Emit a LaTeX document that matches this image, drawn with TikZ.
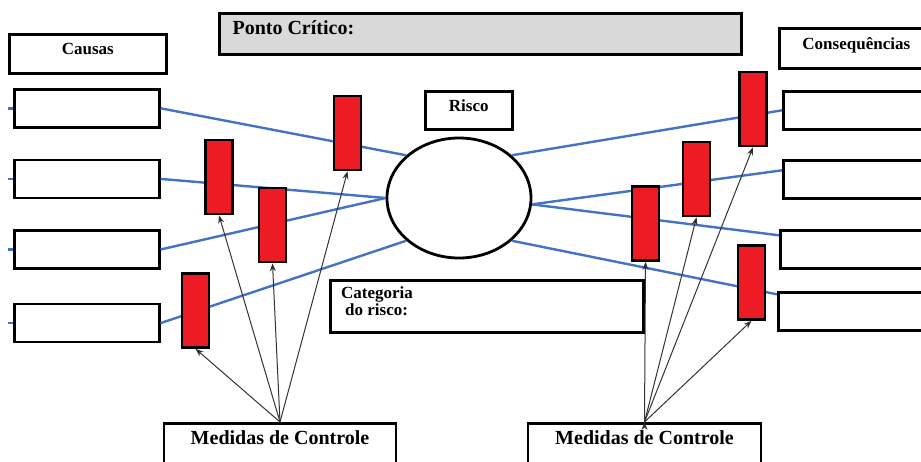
\documentclass[tikz,border=0pt]{standalone}
\usepackage{fontspec}
\setmainfont{Liberation Serif}
\usepackage{tikz}
\usetikzlibrary{positioning, shapes.geometric, arrows, arrows.meta}
\definecolor{azul}{HTML}{4472C4}
\definecolor{vermelho}{HTML}{ED1C24}
\definecolor{cinza}{HTML}{D9D9D9}
\tikzset{
	>={Stealth[length=8pt, width=6pt]}, % Punta de las flechas
	caixa/.style={draw, line width=2.6pt, fill=white, inner sep=0pt}, % Cajas de texto
	titulo/.style={caixa, font=\fontsize{17pt}{20pt}\selectfont\bfseries, text height=12pt, text depth=10pt}, % Cajas con titulo arriba
	item/.style={caixa, minimum width=145pt, minimum height=38pt}, % Causas y consecuencias
	medidas/.style={caixa, font=\fontsize{20pt}{24pt}\selectfont\bfseries, minimum width=232pt, text height=14pt, text depth=21pt, inner ysep=7pt, anchor=north}, % Medidas de control
	barra/.style={draw, line width=2.6pt, fill=vermelho, minimum width=27pt, minimum height=74pt}, % Barras rojas
	ligacao/.style={draw=azul, line width=2.4pt}, % Lineas azules
	seta/.style={->, draw=black!80, line width=1pt} % Flechas de las medidas
}

\begin{document}
\begin{tikzpicture}[x=1pt, y=-1pt]
				\clip (0,0) rectangle (921,461);
				
				\node[caixa, fill=cinza, anchor=north west, minimum width=522pt, minimum height=41pt] (ponto) at (218,12) {};
				\node[anchor=base west, font=\fontsize{20pt}{24pt}\selectfont\bfseries] (pontotxt) at ([xshift=11pt, yshift=-22pt]ponto.north west) {Ponto Crítico:};
				
				\node[titulo, anchor=north west, minimum width=157pt, minimum height=39pt] (causas) at (8,33) {Causas};
				\node[titulo, anchor=north west, minimum width=154pt, minimum height=40pt] (consequencias) at (778,27) {Consequências};
				\node[titulo, anchor=north west, minimum width=87pt, minimum height=38pt] (risco) at (424,90) {Risco};
				
				\node[item, anchor=north west] (causa1) at (13,88) {};
				\node[item, below=30pt of causa1] (causa2) {};
				\node[item, below=30pt of causa2] (causa3) {};
				\node[item, below=33pt of causa3] (causa4) {};
				
				\node[item, minimum width=150pt, anchor=north west] (conseq1) at (782,90) {};
				\node[item, minimum width=150pt, anchor=north west] (conseq2) at (782,159) {};
				\node[item, minimum width=150pt, anchor=north west] (conseq3) at (779,229) {};
				\node[item, minimum width=150pt, anchor=north west] (conseq4) at (777,291) {};
				
				\node[caixa, anchor=north west, minimum width=313pt, minimum height=52pt] (categoria) at (329,279) {};
				\node[anchor=north west, align=left, inner sep=0pt, font=\fontsize{17pt}{17pt}\selectfont\bfseries] (categoriatxt) at ([xshift=12pt, yshift=-7pt]categoria.north west) {Categoria\\\hspace*{4pt}do risco:};
				
				\node[draw, ellipse, line width=2.8pt, fill=white, minimum width=144pt, minimum height=120pt] (evento) at (459,198) {};
				
				\node[medidas] (medidasE) at (280,422) {Medidas de Controle};
				\node[medidas, minimum width=233pt] (medidasD) at (644.5,422) {Medidas de Controle};
				
				\draw[ligacao]	(causa1.west) edge ([xshift=-5pt]causa1.west)
						(causa2.west) edge ([xshift=-5pt]causa2.west)
						(causa3.west) edge ([xshift=-5pt]causa3.west)
						(causa4.west) edge ([xshift=-5pt]causa4.west)
						(causa1.east) edge (evento.141)
						(causa2.east) edge (evento.west)
						(causa3.east) edge (evento.west)
						(causa4.east) edge (evento.219)
						(evento.39) edge (conseq1.west)
						(evento.-5) edge ([yshift=9pt]conseq2.west)
						(evento.-5) edge ([yshift=14pt]conseq3.west)
						(evento.-39) edge ([yshift=17pt]conseq4.west);
				
				\node[barra] (ctrl1) at (347.5,133) {};
				\node[barra] (ctrl2) at (219,177) {};
				\node[barra] (ctrl3) at (272.5,225) {};
				\node[barra] (ctrl4) at (195.5,310.5) {};
				\node[barra] (ctrl5) at (753,109) {};
				\node[barra] (ctrl6) at (696.5,179) {};
				\node[barra] (ctrl7) at (645.5,223.5) {};
				\node[barra] (ctrl8) at (751.5,282.5) {};
				
				\draw[seta]	(medidasE.north) edge (ctrl1.south)
						(medidasE.north) edge (ctrl2.south)
						(medidasE.north) edge (ctrl3.south)
						(medidasE.north) edge (ctrl4.south)
						(medidasD.north) edge (ctrl5.south)
						(medidasD.north) edge (ctrl6.south)
						(medidasD.north) edge (ctrl7.south)
						(medidasD.north) edge (ctrl8.south);
			\end{tikzpicture}
\end{document}
